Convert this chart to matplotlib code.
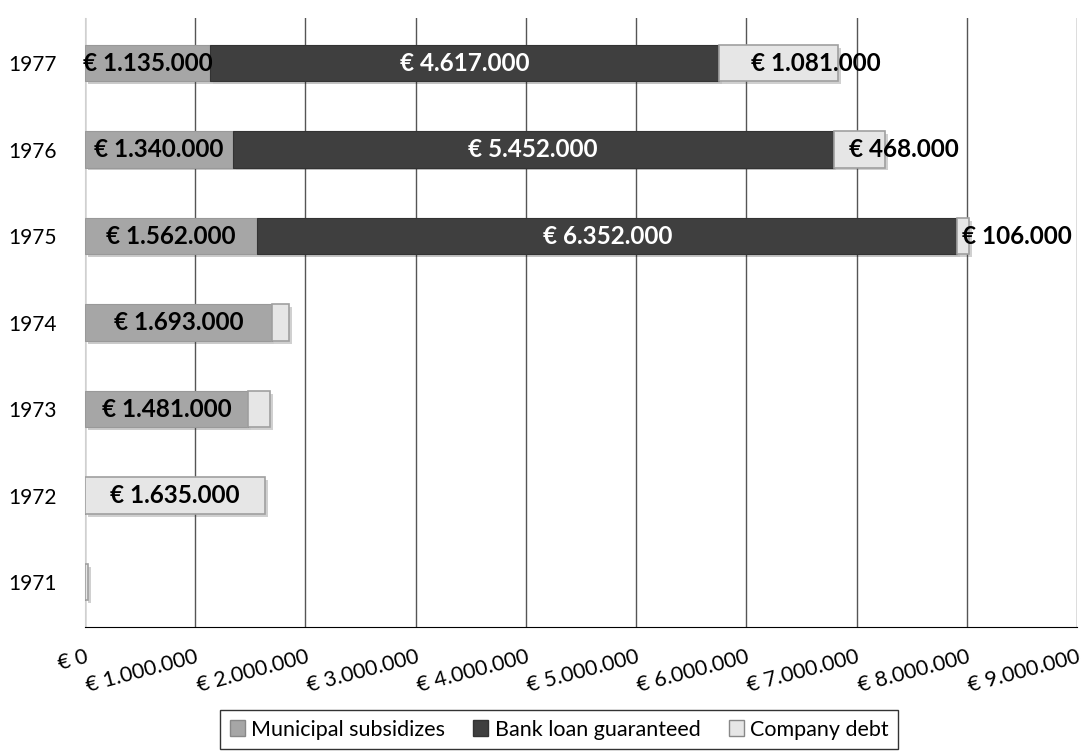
import matplotlib.pyplot as plt
import matplotlib.patheffects as pe
from matplotlib.patches import Patch
import numpy as np

plt.rcParams['font.family'] = ['Lato', 'DejaVu Sans']

years = ['1971', '1972', '1973', '1974', '1975', '1976', '1977']
municipal = [0, 0, 1481000, 1693000, 1562000, 1340000, 1135000]
bank_loan = [0, 0, 0, 0, 6352000, 5452000, 4617000]
company_debt = [25000, 1635000, 198000, 158000, 106000, 468000, 1081000]

# which segments get a label
show_muni = [False, False, True, True, True, True, True]
show_bank = [False, False, False, False, True, True, True]
show_debt = [False, True, False, False, True, True, True]

C_MUNI = '#a6a6a6'
C_BANK = '#3f3f3f'
C_DEBT = '#e6e6e6'


def euro(v):
    return '€ ' + '{:,}'.format(int(v)).replace(',', '.')


fig = plt.figure(figsize=(10.86, 7.51), dpi=100)
ax = fig.add_axes([0.0783, 0.165, 0.9134, 0.811])

y = np.arange(len(years))
h = 0.42
shadow = [pe.SimplePatchShadow(offset=(2, -2), alpha=0.25), pe.Normal()]

muni = np.array(municipal)
bank = np.array(bank_loan)
debt = np.array(company_debt)

ax.barh(y, muni, h, color=C_MUNI, edgecolor='#999999', lw=0.8,
        zorder=3, path_effects=shadow)
ax.barh(y, bank, h, left=muni, color=C_BANK, edgecolor='#333333', lw=0.8,
        zorder=3, path_effects=shadow)
ax.barh(y, debt, h, left=muni + bank, color=C_DEBT, edgecolor='#a0a0a0',
        lw=1.2, zorder=3, path_effects=shadow)

fs = 17.5
for i in range(len(years)):
    if show_muni[i]:
        ax.text(muni[i] / 2, y[i], euro(muni[i]), ha='center', va='center',
                fontsize=fs, fontweight='bold', color='black', zorder=5)
    if show_bank[i]:
        ax.text(muni[i] + bank[i] / 2, y[i], euro(bank[i]), ha='center',
                va='center', fontsize=fs, fontweight='bold', color='white',
                zorder=5)
    if show_debt[i]:
        left = muni[i] + bank[i]
        if left == 0:
            ax.text(debt[i] / 2, y[i], euro(debt[i]), ha='center',
                    va='center', fontsize=fs, fontweight='bold', zorder=5)
        else:
            ax.annotate(euro(debt[i]), (left + 0.25 * debt[i], y[i]),
                        xytext=(2, 0), textcoords='offset pixels',
                        ha='left', va='center', fontsize=fs,
                        fontweight='bold', zorder=5)

ax.set_xlim(0, 9000000)
ax.set_ylim(-0.52, 6.52)
ticks = np.arange(0, 9000001, 1000000)
ax.set_xticks(ticks)
ax.set_xticklabels([euro(t) for t in ticks], rotation=15, ha='right',
                   rotation_mode='anchor', fontsize=15.5)
ax.set_yticks(y)
ax.set_yticklabels(years, fontsize=15)
ax.tick_params(axis='both', length=0)
ax.tick_params(axis='x', pad=14)
ax.tick_params(axis='y', pad=20)

ax.grid(axis='x', color='#555555', lw=1, zorder=0)
ax.set_axisbelow(True)
ax.spines['top'].set_visible(False)
ax.spines['right'].set_visible(False)
ax.spines['left'].set_color('#d0d0d0')
ax.spines['bottom'].set_color('black')

handles = [Patch(facecolor=C_MUNI, edgecolor='#888888', label='Municipal subsidizes'),
           Patch(facecolor=C_BANK, edgecolor='#333333', label='Bank loan guaranteed'),
           Patch(facecolor=C_DEBT, edgecolor='#888888', label='Company debt')]
leg = fig.legend(handles=handles, loc='lower center', bbox_to_anchor=(0.515, -0.012),
                 ncol=3, fontsize=15.5, frameon=True, fancybox=False,
                 handlelength=0.7, handleheight=0.7, handletextpad=0.3,
                 columnspacing=1.3, borderpad=0.45)
leg.get_frame().set_edgecolor('black')
leg.get_frame().set_linewidth(1)

fig.savefig('out.png', dpi=100)
